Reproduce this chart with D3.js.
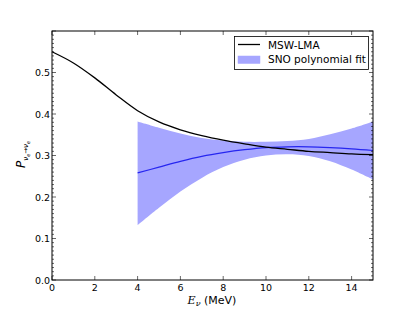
<!DOCTYPE html>
<html>
<head>
<meta charset="utf-8">
<script src="https://cdn.jsdelivr.net/npm/d3@7"></script>
<style>
  body { margin: 0; background: #fff; }
  svg text { font-family: "DejaVu Sans", sans-serif; }
</style>
</head>
<body>
<script>
// values
var mswE = [0, 1, 2, 3, 4, 5, 6, 7, 8, 9, 10, 11, 12, 13, 14, 15];
var mswP = [0.550, 0.523, 0.487, 0.446, 0.408, 0.381, 0.362, 0.348, 0.337, 0.328, 0.320, 0.315, 0.310, 0.307, 0.304, 0.302];

var snoE = [4, 5, 6, 7, 8, 9, 10, 11, 12, 13, 14, 15];
var snoMid = [0.258, 0.272, 0.286, 0.298, 0.307, 0.314, 0.319, 0.321, 0.321, 0.319, 0.316, 0.312];
var snoHi = [0.382, 0.367, 0.353, 0.342, 0.336, 0.333, 0.333, 0.335, 0.340, 0.351, 0.365, 0.382];
var snoLo = [0.132, 0.174, 0.213, 0.246, 0.272, 0.290, 0.300, 0.303, 0.299, 0.286, 0.266, 0.242];

var xTicks = [0, 2, 4, 6, 8, 10, 12, 14];
var yTicks = [0.0, 0.1, 0.2, 0.3, 0.4, 0.5];
var legendLabels = ["MSW-LMA", "SNO polynomial fit"];

var W = 415, H = 312;
var L = 52, R = 373, T = 31, B = 280;

var svg = d3.select("body").append("svg")
  .attr("width", W).attr("height", H);

var x = d3.scaleLinear().domain([0, 15]).range([L, R]);
var y = d3.scaleLinear().domain([0, 0.6]).range([B, T]);

// band
var band = snoE.map(function (e, i) { return { e: e, lo: snoLo[i], hi: snoHi[i], m: snoMid[i] }; });
var area = d3.area()
  .x(d => x(d.e)).y0(d => y(d.lo)).y1(d => y(d.hi))
  .curve(d3.curveCatmullRom);
svg.append("path").datum(band)
  .attr("d", area)
  .attr("fill", "#a6a6ff")
  .attr("stroke", "none");

var line = d3.line().curve(d3.curveCatmullRom);
svg.append("path")
  .attr("d", line(band.map(d => [x(d.e), y(d.m)])))
  .attr("fill", "none").attr("stroke", "#2626f0").attr("stroke-width", 1.2);

svg.append("path")
  .attr("d", line(mswE.map((e, i) => [x(e), y(mswP[i])])))
  .attr("fill", "none").attr("stroke", "#000").attr("stroke-width", 1.3);

// axes, ticks pointing inward
var g = svg.append("g");
g.append("rect").attr("x", L).attr("y", T).attr("width", R - L).attr("height", B - T)
  .attr("fill", "none").attr("stroke", "#000").attr("stroke-width", 1);

xTicks.forEach(function (t) {
  g.append("line").attr("x1", x(t)).attr("x2", x(t)).attr("y1", B).attr("y2", B - 4)
    .attr("stroke", "#000").attr("stroke-width", 0.6);
  g.append("line").attr("x1", x(t)).attr("x2", x(t)).attr("y1", T).attr("y2", T + 4)
    .attr("stroke", "#000").attr("stroke-width", 0.6);
  g.append("text").attr("x", x(t)).attr("y", B + 10.5)
    .attr("text-anchor", "middle").attr("font-size", 9.5).text(t);
});

d3.range(0, 0.601, 0.01).forEach(function (t) {
  var major = Math.abs(t * 10 - Math.round(t * 10)) < 1e-6;
  var len = major ? 4 : 2;
  g.append("line").attr("x1", L).attr("x2", L + len).attr("y1", y(t)).attr("y2", y(t))
    .attr("stroke", "#000").attr("stroke-width", 0.6);
  g.append("line").attr("x1", R).attr("x2", R - len).attr("y1", y(t)).attr("y2", y(t))
    .attr("stroke", "#000").attr("stroke-width", 0.6);
});
yTicks.forEach(function (t) {
  g.append("text").attr("x", L - 2).attr("y", y(t) + 3.5)
    .attr("text-anchor", "end").attr("font-size", 9.5).text(t.toFixed(1));
});

// axis labels
var xl = svg.append("text").attr("x", 212).attr("y", 303.5)
  .attr("text-anchor", "middle").attr("font-size", 11);
xl.append("tspan").attr("font-family", "DejaVu Serif").attr("font-style", "italic").text("E");
xl.append("tspan").attr("font-family", "DejaVu Serif").attr("font-style", "italic")
  .attr("font-size", 8).attr("dy", 2.5).text("ν");
xl.append("tspan").attr("dy", -2.5).text(" (MeV)");

var yl = svg.append("text").attr("transform", "translate(25,168) rotate(-90)")
  .attr("font-family", "DejaVu Serif").attr("font-style", "italic").attr("font-size", 12);
yl.append("tspan").text("P");
yl.append("tspan").attr("font-size", 7).attr("dy", 3).text("ν");
yl.append("tspan").attr("font-size", 5).attr("dy", 1.5).text("e");
yl.append("tspan").attr("font-size", 7).attr("dy", -1.5).attr("font-style", "normal").text("→");
yl.append("tspan").attr("font-size", 7).text("ν");
yl.append("tspan").attr("font-size", 5).attr("dy", 1.5).text("e");

// legend
var lg = svg.append("g");
lg.append("rect").attr("x", 234.5).attr("y", 36.5).attr("width", 134).attr("height", 33)
  .attr("fill", "#fff").attr("stroke", "#000").attr("stroke-width", 0.8);
lg.append("line").attr("x1", 238).attr("x2", 260).attr("y1", 44.5).attr("y2", 44.5)
  .attr("stroke", "#000").attr("stroke-width", 1.3);
lg.append("rect").attr("x", 238).attr("y", 56).attr("width", 22).attr("height", 7.5)
  .attr("fill", "#a6a6ff").attr("stroke", "#a6a6ff").attr("stroke-width", 0.5);
lg.selectAll("text.leg").data(legendLabels).enter().append("text")
  .attr("class", "leg")
  .attr("x", 268).attr("y", (d, i) => 48.5 + i * 14)
  .attr("font-size", 10.5).text(d => d);
</script>
</body>
</html>
